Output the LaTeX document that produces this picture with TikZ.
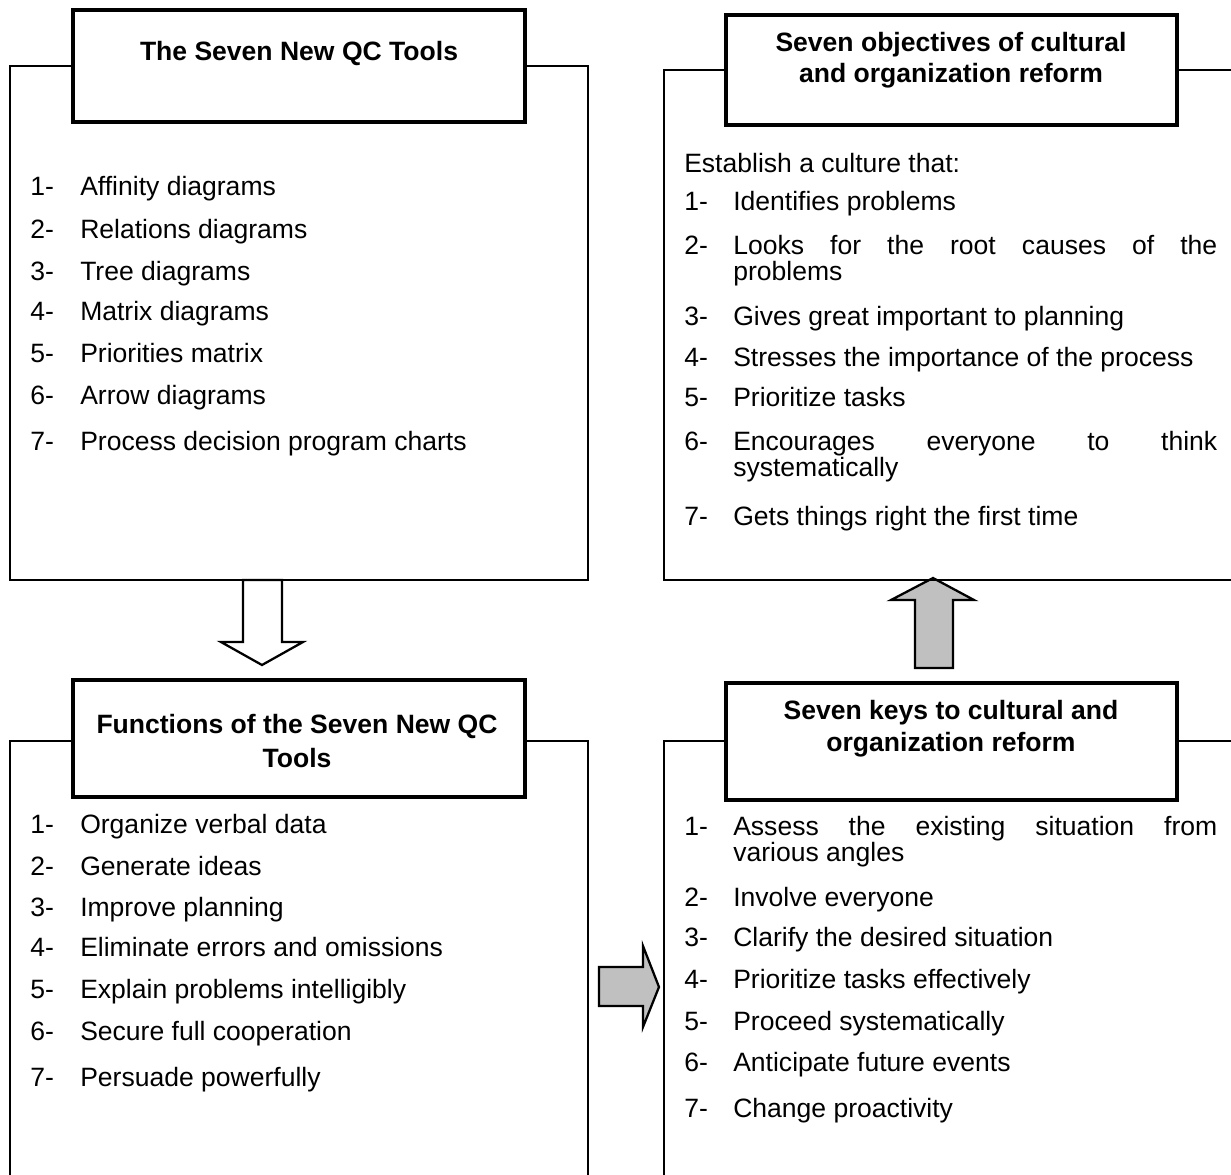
\documentclass[tikz,border=0pt]{standalone}
\usepackage{fontspec}
\setmainfont{Liberation Sans}
\newcommand\entrysize{\fontsize{19.9}{24}\selectfont}
\definecolor{arrowgrey}{HTML}{C0C0C0}
\begin{document}
\begin{tikzpicture}[x=0.75pt,y=-0.75pt,
  panel/.style={line width=1.3pt},
  titlebox/.style={draw, line width=3pt, fill=white},
  titletext/.style={font=\entrysize\bfseries, align=center, inner sep=0pt},
  num/.style={anchor=base west, inner sep=0pt, font=\entrysize},
  entry/.style={anchor=base west, inner sep=0pt, font=\entrysize},
  hollowarrow/.style={draw, line width=1.7pt, fill=white, line join=miter},
  greyarrow/.style={draw, line width=1.7pt, fill=arrowgrey, line join=miter}]
\useasboundingbox (0,0) rectangle (1231,1174);
\begin{scope}
\clip (0,0) rectangle (1231,1174);

% block arrows between the panels
\draw[hollowarrow] (243,580) -- (282,580) -- (282,642) -- (303,642) -- (262,665)
  -- (221,642) -- (243,642) -- cycle;
\draw[greyarrow] (933,578) -- (974,600) -- (953,600) -- (953,668) -- (915,668)
  -- (915,600) -- (891,600) -- cycle;
\draw[greyarrow] (599,967) -- (643,967) -- (643,946) -- (659,987) -- (643,1027)
  -- (643,1006) -- (599,1006) -- cycle;

% panels
\draw[panel] (10,66) rectangle (588,580);
\draw[panel] (1240,70) -- (664,70) -- (664,580) -- (1240,580);
\draw[panel] (10,1190) -- (10,741) -- (588,741) -- (588,1190);
\draw[panel] (1240,741) -- (664,741) -- (664,1190);

% title boxes
\draw[titlebox] (73,10) rectangle (525,122);
\draw[titlebox] (726,15) rectangle (1177,125);
\draw[titlebox] (73,680) rectangle (525,797);
\draw[titlebox] (726,683) rectangle (1177,800);
\end{scope}

\node[titletext] (ttools) at (299,53) {The Seven New QC Tools};
\node[titletext] (tobj) at (951,60) {Seven objectives of cultural\\[-1pt]and organization reform};
\node[titletext] (tfun) at (297,741) {Functions of the Seven New QC\\[1.5pt]Tools};
\node[titletext] (tkeys) at (951,729) {Seven keys to cultural and\\organization reform};

% The Seven New QC Tools
\node[num] (n11) at (30,195) {1-}; \node[entry] (e11) at (80,195) {Affinity diagrams};
\node[num] (n12) at (30,238) {2-}; \node[entry] (e12) at (80,238) {Relations diagrams};
\node[num] (n13) at (30,280) {3-}; \node[entry] (e13) at (80,280) {Tree diagrams};
\node[num] (n14) at (30,320) {4-}; \node[entry] (e14) at (80,320) {Matrix diagrams};
\node[num] (n15) at (30,362) {5-}; \node[entry] (e15) at (80,362) {Priorities matrix};
\node[num] (n16) at (30,404) {6-}; \node[entry] (e16) at (80,404) {Arrow diagrams};
\node[num] (n17) at (30,450) {7-}; \node[entry] (e17) at (80,450) {Process decision program charts};

% Seven objectives
\node[entry] (intro) at (684,172) {Establish a culture that:};
\node[num] (n21) at (684,210) {1-}; \node[entry] (e21) at (733,210) {Identifies problems};
\node[num] (n22) at (684,254) {2-}; \node[entry] (e22) at (733,254) {\makebox[363pt][s]{Looks for the root causes of the}};
\node[entry] (e22b) at (733,280) {problems};
\node[num] (n23) at (684,325) {3-}; \node[entry] (e23) at (733,325) {Gives great important to planning};
\node[num] (n24) at (684,366) {4-}; \node[entry] (e24) at (733,366) {Stresses the importance of the process};
\node[num] (n25) at (684,406) {5-}; \node[entry] (e25) at (733,406) {Prioritize tasks};
\node[num] (n26) at (684,450) {6-}; \node[entry] (e26) at (733,450) {\makebox[363pt][s]{Encourages everyone to think}};
\node[entry] (e26b) at (733,476) {systematically};
\node[num] (n27) at (684,525) {7-}; \node[entry] (e27) at (733,525) {Gets things right the first time};

% Functions
\node[num] (n31) at (30,833) {1-}; \node[entry] (e31) at (80,833) {Organize verbal data};
\node[num] (n32) at (30,875) {2-}; \node[entry] (e32) at (80,875) {Generate ideas};
\node[num] (n33) at (30,916) {3-}; \node[entry] (e33) at (80,916) {Improve planning};
\node[num] (n34) at (30,956) {4-}; \node[entry] (e34) at (80,956) {Eliminate errors and omissions};
\node[num] (n35) at (30,998) {5-}; \node[entry] (e35) at (80,998) {Explain problems intelligibly};
\node[num] (n36) at (30,1040) {6-}; \node[entry] (e36) at (80,1040) {Secure full cooperation};
\node[num] (n37) at (30,1086) {7-}; \node[entry] (e37) at (80,1086) {Persuade powerfully};

% Seven keys
\node[num] (n41) at (684,835) {1-}; \node[entry] (e41) at (733,835) {\makebox[363pt][s]{Assess the existing situation from}};
\node[entry] (e41b) at (733,861) {various angles};
\node[num] (n42) at (684,906) {2-}; \node[entry] (e42) at (733,906) {Involve everyone};
\node[num] (n43) at (684,946) {3-}; \node[entry] (e43) at (733,946) {Clarify the desired situation};
\node[num] (n44) at (684,988) {4-}; \node[entry] (e44) at (733,988) {Prioritize tasks effectively};
\node[num] (n45) at (684,1030) {5-}; \node[entry] (e45) at (733,1030) {Proceed systematically};
\node[num] (n46) at (684,1071) {6-}; \node[entry] (e46) at (733,1071) {Anticipate future events};
\node[num] (n47) at (684,1117) {7-}; \node[entry] (e47) at (733,1117) {Change proactivity};
\end{tikzpicture}
\end{document}
